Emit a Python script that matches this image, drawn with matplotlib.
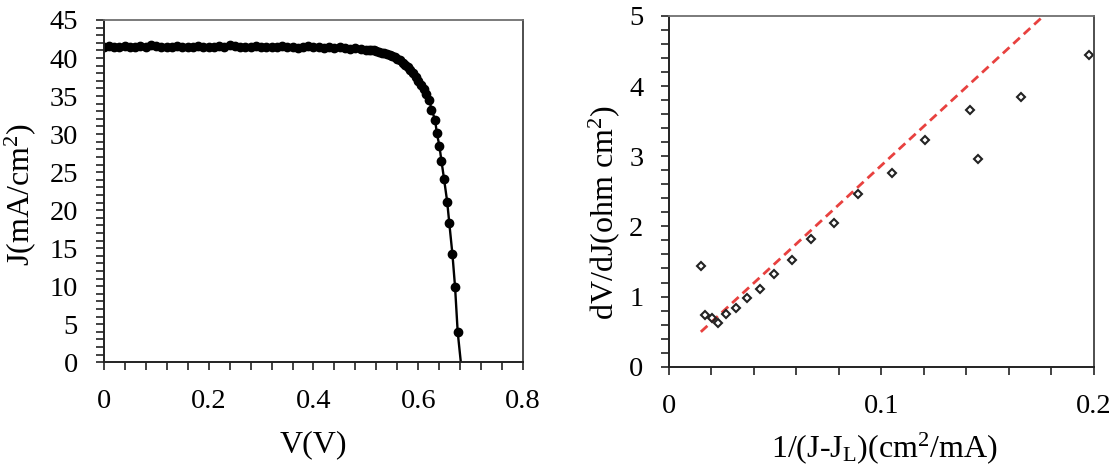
import matplotlib
matplotlib.use('Agg')
import matplotlib.pyplot as plt
import matplotlib.ticker as plticker

plt.rcParams['font.family'] = ['Liberation Serif', 'DejaVu Serif']
plt.rcParams['mathtext.fontset'] = 'custom'
plt.rcParams['mathtext.rm'] = 'Liberation Serif'
plt.rcParams['mathtext.it'] = 'Liberation Serif:italic'

# J-V curve (V in volts, J in mA/cm2)
volts = [0.00, 0.01, 0.02, 0.03, 0.04, 0.05, 0.06, 0.07, 0.08, 0.09,
         0.10, 0.11, 0.12, 0.13, 0.14, 0.15, 0.16, 0.17, 0.18, 0.19,
         0.20, 0.21, 0.22, 0.23, 0.24, 0.25, 0.26, 0.27, 0.28, 0.29,
         0.30, 0.31, 0.32, 0.33, 0.34, 0.35, 0.36, 0.37, 0.38, 0.39,
         0.40, 0.41, 0.42, 0.43, 0.44, 0.45, 0.46, 0.47, 0.48, 0.49,
         0.500, 0.505, 0.510, 0.515, 0.520, 0.525, 0.530, 0.535, 0.540, 0.545,
         0.550, 0.555, 0.560, 0.565, 0.570, 0.575, 0.580, 0.585, 0.590, 0.595,
         0.600, 0.605, 0.610, 0.615, 0.621, 0.625, 0.632, 0.635, 0.640, 0.644,
         0.649, 0.655, 0.659, 0.665, 0.670, 0.675, 0.681]
current = [41.5, 41.6, 41.4, 41.5, 41.6, 41.5, 41.4, 41.6, 41.5, 41.7,
           41.6, 41.5, 41.4, 41.5, 41.6, 41.5, 41.4, 41.5, 41.6, 41.5,
           41.4, 41.5, 41.6, 41.5, 41.7, 41.6, 41.5, 41.4, 41.5, 41.6,
           41.5, 41.4, 41.5, 41.5, 41.6, 41.4, 41.5, 41.3, 41.5, 41.6,
           41.4, 41.5, 41.3, 41.4, 41.3, 41.4, 41.3, 41.2, 41.3, 41.2,
           41.1, 41.1, 41.0, 41.0, 40.9, 40.8, 40.7, 40.6, 40.5, 40.4,
           40.3, 40.1, 39.9, 39.7, 39.4, 39.1, 38.8, 38.4, 38.0, 37.5,
           37.0, 36.5, 35.9, 35.3, 34.5, 33.2, 31.9, 30.2, 28.5, 26.5,
           24.1, 21.1, 18.3, 14.2, 9.9, 4.0, 0.0]

# dV/dJ vs 1/(J-JL)
inv_j = [0.0151, 0.0171, 0.0201, 0.0232, 0.0268, 0.0315, 0.0369, 0.0431,
         0.0495, 0.0579, 0.0668, 0.0777, 0.0891, 0.1052, 0.1208, 0.1419,
         0.1456, 0.1656, 0.1978]
dvdj = [1.434, 0.736, 0.689, 0.627, 0.746, 0.831, 0.973, 1.102,
        1.320, 1.520, 1.814, 2.042, 2.460, 2.764, 3.229, 3.666,
        2.954, 3.846, 4.440]

# linear fit shown as dashed line
fit_slope = 27.9
fit_icpt = 0.078
fit_x = [0.015, 0.18]

FS = 20.5   # tick labels
LS = 23     # axis labels
fmt = plticker.FuncFormatter(lambda v, p: '%g' % round(v, 6))

fig = plt.figure(figsize=(11.18, 4.67), dpi=100)
ax1 = fig.add_axes([0.0928, 0.2242, 0.3752, 0.733])
ax2 = fig.add_axes([0.5984, 0.2148, 0.3797, 0.751])

ax1.plot(volts, current, color='black', lw=1.7, marker='o', ms=6.0,
         markevery=slice(0, len(volts) - 1))
ax1.set_xlim(0, 0.8)
ax1.set_ylim(0, 45)
ax1.xaxis.set_major_locator(plticker.MultipleLocator(0.2))
ax1.xaxis.set_minor_locator(plticker.MultipleLocator(0.04))
ax1.yaxis.set_major_locator(plticker.MultipleLocator(5))
ax1.yaxis.set_minor_locator(plticker.MultipleLocator(1))
ax1.set_xlabel('V(V)', fontsize=LS)
ax1.set_ylabel('J(mA/cm$^{2}$)', fontsize=LS)
ax1.xaxis.set_label_coords(0.5, -0.2416)
ax1.yaxis.set_label_coords(-0.1998, 0.489)

fit_y = [fit_slope * x + fit_icpt for x in fit_x]
ax2.plot(fit_x, fit_y, color='#e8413f', lw=2.0, dashes=(3.2, 1.9))
ax2.plot(inv_j, dvdj, linestyle='none', marker='D', ms=4.2, mfc='none',
         mec='#222222', mew=1.5)
ax2.set_xlim(0, 0.2)
ax2.set_ylim(0, 5)
ax2.xaxis.set_major_locator(plticker.MultipleLocator(0.1))
ax2.xaxis.set_minor_locator(plticker.MultipleLocator(0.02))
ax2.yaxis.set_major_locator(plticker.MultipleLocator(1))
ax2.yaxis.set_minor_locator(plticker.MultipleLocator(0.2))
ax2.set_xlabel('1/(J-J$_{\\mathrm{L}}$)(cm$^{2}$/mA)', fontsize=LS)
ax2.set_ylabel('dV/dJ(ohm cm$^{2}$)', fontsize=LS)
ax2.xaxis.set_label_coords(0.506, -0.232)
ax2.yaxis.set_label_coords(-0.154, 0.438)

for ax in (ax1, ax2):
  ax.xaxis.label.set_va('center')
  ax.yaxis.label.set_va('center')
  ax.xaxis.set_major_formatter(fmt)
  ax.yaxis.set_major_formatter(fmt)
  ax.tick_params(which='both', direction='out', length=5.5, width=1.2,
                 color='#222222', top=False, right=False)
  ax.tick_params(axis='x', which='major', labelsize=FS, pad=14)
  ax.tick_params(axis='y', which='major', labelsize=FS, pad=13)
  ax.spines['left'].set_linewidth(1.4)
  ax.spines['bottom'].set_linewidth(1.4)
  ax.spines['left'].set_color('#222222')
  ax.spines['bottom'].set_color('#222222')
  ax.spines['top'].set_color('#707070')
  ax.spines['right'].set_color('#404040')
  ax.spines['top'].set_linewidth(1.3)
  ax.spines['right'].set_linewidth(1.3)

fig.savefig('out.png', dpi=100)
